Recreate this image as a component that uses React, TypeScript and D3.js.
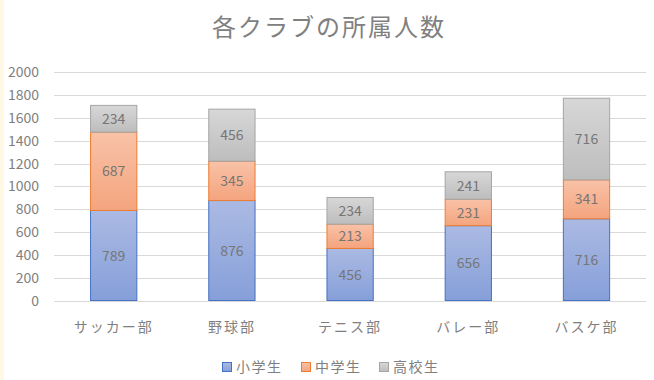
import React from "react";
import * as d3 from "d3";

const categories = ["サッカー部", "野球部", "テニス部", "バレー部", "バスケ部"];
const seriesNames = ["小学生", "中学生", "高校生"];
const elementary = [789, 876, 456, 656, 716];
const juniorHigh = [687, 345, 213, 231, 341];
const highSchool = [234, 456, 234, 241, 716];
const yTicks = [0, 200, 400, 600, 800, 1000, 1200, 1400, 1600, 1800, 2000];

const W = 654;
const H = 380;
const FONT = "'Noto Sans CJK JP', 'Noto Sans', sans-serif";

const fills = [
  { top: "#abbae3", bottom: "#869fd9", stroke: "#4472c4" },
  { top: "#f9c2a7", bottom: "#f4a47e", stroke: "#ed7d31" },
  { top: "#d7d7d7", bottom: "#bdbdbd", stroke: "#a5a5a5" },
];

export default function App() {
  const seriesValues = [elementary, juniorHigh, highSchool];
  const rows = categories.map((c, i) => {
    const r: any = { cat: c };
    seriesNames.forEach((s, k) => (r[s] = seriesValues[k][i]));
    return r;
  });
  const stacked = d3.stack<any>().keys(seriesNames)(rows);

  const x = d3.scaleBand().domain(categories).range([54.6, 645.6]).paddingInner(0.6).paddingOuter(0.3);
  const y = d3.scaleLinear().domain([0, 2000]).range([300.5, 72.3]);

  return (
    <div style={{ position: "fixed", left: 0, top: 0, width: W, height: H, background: "#fff" }}>
      <svg width={W} height={H} style={{ display: "block" }} fontFamily={FONT}>
        <defs>
          {fills.map((f, k) => (
            <linearGradient key={k} id={`g${k}`} x1="0" y1="0" x2="0" y2="1">
              <stop offset="0" stopColor={f.top} />
              <stop offset="1" stopColor={f.bottom} />
            </linearGradient>
          ))}
        </defs>
        <rect x={0} y={0} width={W} height={H} fill="#fff" />
        <rect x={0} y={0} width={4} height={H} fill="#fff8e4" />
        <text
          x={329}
          y={36}
          textAnchor="middle"
          fontSize={24}
          letterSpacing={2}
          fill="#808080"
        >
          各クラブの所属人数
        </text>
        {yTicks.map((t) => (
          <g key={t}>
            <line x1={54} x2={646} y1={Math.round(y(t)) + 0.5} y2={Math.round(y(t)) + 0.5} stroke="#d9d9d9" strokeWidth={1} />
            <text x={39} y={y(t)} dy="0.36em" textAnchor="end" fontSize={14} fill="#7f7f7f">
              {t}
            </text>
          </g>
        ))}
        {stacked.map((layer, k) =>
          layer.map((d, i) => {
            const x0 = x(categories[i]) as number;
            const bw = x.bandwidth();
            const yTop = y(d[1]);
            const yBot = y(d[0]);
            return (
              <g key={`${k}-${i}`}>
                <rect
                  x={x0 + 0.5}
                  y={yTop}
                  width={bw - 1}
                  height={yBot - yTop}
                  fill={`url(#g${k})`}
                  stroke={fills[k].stroke}
                  strokeWidth={1}
                />
                <text
                  x={x0 + bw / 2}
                  y={(yTop + yBot) / 2}
                  dy="0.36em"
                  textAnchor="middle"
                  fontSize={14}
                  fill="#767676"
                >
                  {seriesValues[k][i]}
                </text>
              </g>
            );
          })
        )}
        {categories.map((c) => (
          <text
            key={c}
            x={(x(c) as number) + x.bandwidth() / 2}
            y={327}
            dy="0.36em"
            textAnchor="middle"
            fontSize={14}
            letterSpacing={2}
            fill="#7f7f7f"
          >
            {c}
          </text>
        ))}
        {(() => {
          const starts = [222, 301, 379];
          return seriesNames.map((s, k) => (
            <g key={s}>
              <rect x={starts[k] + 0.5} y={362.5} width={9} height={9} fill={`url(#g${k})`} stroke={fills[k].stroke} />
              <text x={starts[k] + 14} y={367} dy="0.36em" fontSize={14} letterSpacing={1.5} fill="#7f7f7f">
                {s}
              </text>
            </g>
          ));
        })()}
      </svg>
    </div>
  );
}
